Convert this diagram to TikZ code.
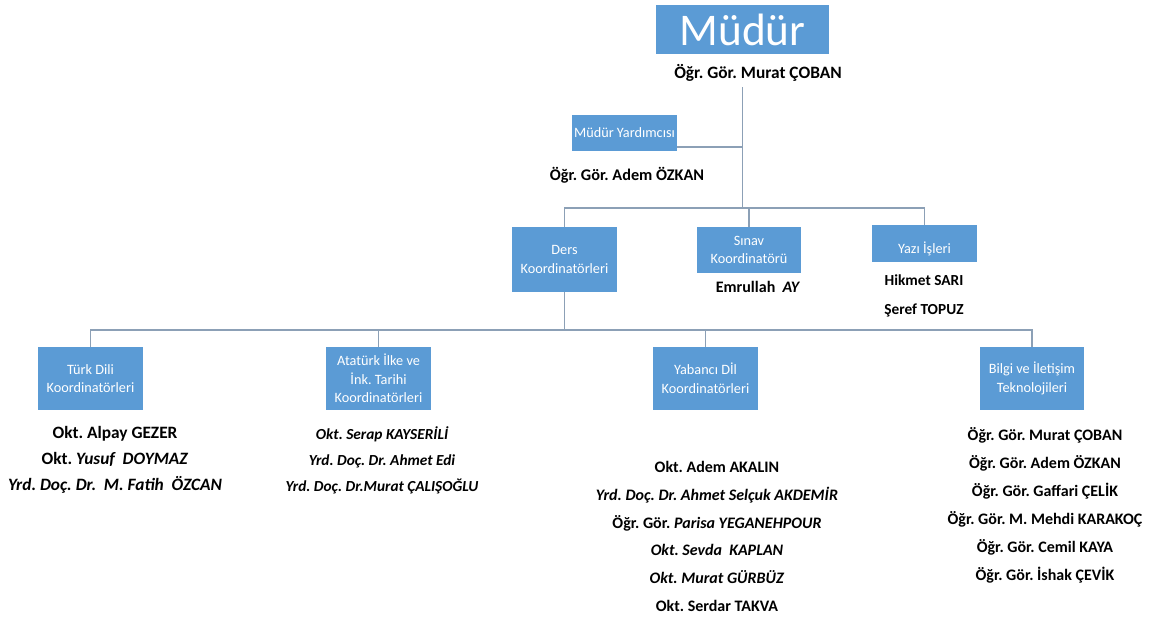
\documentclass[tikz,border=0pt]{standalone}
\usepackage{fontspec}
\setmainfont{Carlito}
\definecolor{boxblue}{RGB}{91,155,213}
\definecolor{linkgray}{RGB}{140,160,182}
\frenchspacing

\begin{document}
\begin{tikzpicture}[x = 0.75pt, y = -0.75pt,
	unit/.style = {fill = boxblue, text = white, align = center, inner sep = 0pt, minimum width = 78.75pt, font = \fontsize{10.7}{14}\selectfont},
	person/.style = {align = center, inner sep = 0pt, font = \bfseries\fontsize{13}{19.5}\selectfont},
	link/.style = {draw = linkgray, line width = 1.2pt}]
	 \useasboundingbox (0, 0) rectangle (1165, 628);

	 \node[unit, minimum width = 129.75pt, minimum height = 36.75pt, font = \fontsize{34}{34}\selectfont] (mudur) at (742.5, 29.5) {Müdür};
	 \node[person] (mudurad) at (758, 73) {Öğr. Gör. Murat ÇOBAN};

	 \node[unit, minimum height = 27pt] (yard) at (624.5, 133) {Müdür Yardımcısı};
	 \node[person, font = \bfseries\fontsize{12.2}{15}\selectfont] (yardad) at (627, 175) {Öğr. Gör. Adem ÖZKAN};

	 \node[unit, minimum height = 48.75pt] (ders) at (564.5, 259.5) {Ders\\Koordinatörleri};
	 \node[unit, minimum width = 78pt, minimum height = 34.5pt] (sinav) at (749, 250) {Sınav\\Koordinatörü};
	 \node[person, font = \bfseries\fontsize{12}{16}\selectfont] (sinavad) at (758, 287) {Emrullah~ \textit{AY}};
	 \node[unit, minimum height = 27.75pt] (yazi) at (924.5, 243.5) {};
	 \node[text = white, inner sep = 0pt, font = \fontsize{10.7}{14}\selectfont] (yazitxt) at ([yshift = -4pt]yazi.center) {Yazı İşleri};
	 \node[person, font = \bfseries\fontsize{11.5}{21.75}\selectfont] (yaziad) at (924, 295.5) {Hikmet SARI\\Şeref TOPUZ};

	 \node[unit, minimum height = 47.25pt] (turk) at (90.5, 378.5) {Türk Dili\\Koordinatörleri};
	 \node[unit, minimum height = 47.25pt] (ataturk) at (378.5, 378.5) {Atatürk İlke ve\\İnk. Tarihi\\Koordinatörleri};
	 \node[unit, minimum height = 47.25pt] (yabanci) at (705.5, 378.5) {Yabancı Dİl\\Koordinatörleri};
	 \node[unit, minimum width = 78pt, minimum height = 47.25pt] (bilgi) at (1032, 378.5) {Bilgi ve İletişim\\Teknolojileri};

	 \node[person] (turkad) at (115, 460) {Okt. Alpay GEZER\\Okt. \textit{Yusuf~ DOYMAZ}\\\textit{Yrd. Doç. Dr.~ M. Fatih~ ÖZCAN}};
	 \node[person, font = \bfseries\itshape\fontsize{11.5}{19.5}\selectfont] (ataturkad) at (382, 460) {Okt. Serap KAYSERİLİ\\Yrd. Doç. Dr. Ahmet Edi\\Yrd. Doç. Dr.Murat ÇALIŞOĞLU};
	 \node[person, font = \bfseries\fontsize{12}{20.8}\selectfont] (yabanciad) at (717, 536.5) {Okt. Adem AKALIN\\\textit{Yrd. Doç. Dr. Ahmet Selçuk AKDEMİR}\\Öğr. Gör. \textit{Parisa YEGANEHPOUR}\\\textit{Okt. Sevda~ KAPLAN}\\\textit{Okt. Murat GÜRBÜZ}\\Okt. Serdar TAKVA};
	 \node[person, font = \bfseries\fontsize{12}{21}\selectfont] (bilgiad) at (1045, 505) {Öğr. Gör. Murat ÇOBAN\\Öğr. Gör. Adem ÖZKAN\\Öğr. Gör. Gaffari ÇELİK\\Öğr. Gör. M. Mehdi KARAKOÇ\\Öğr. Gör. Cemil KAYA\\Öğr. Gör. İshak ÇEVİK};

	 \coordinate (top) at (742.5, 87);
	 \coordinate (bus1) at (742.5, 208);
	 \coordinate (bus2) at (564.5, 330);

	 \draw[link] (top) -- (bus1);
	 \draw[link] ([yshift = -10.5pt]yard.east) -- ([yshift = -10.5pt]yard.east -| top);
	 \draw[link] (ders.north) |- (bus1) -| (yazi.north);
	 \draw[link] (sinav.north) -- (sinav.north |- bus1);

	 \draw[link] (ders.south) -- (bus2);
	 \draw[link] (turk.north) |- (bus2) -| (bilgi.north);
	 \draw[link] (ataturk.north) -- (ataturk.north |- bus2);
	 \draw[link] (yabanci.north) -- (yabanci.north |- bus2);
\end{tikzpicture}
\end{document}
